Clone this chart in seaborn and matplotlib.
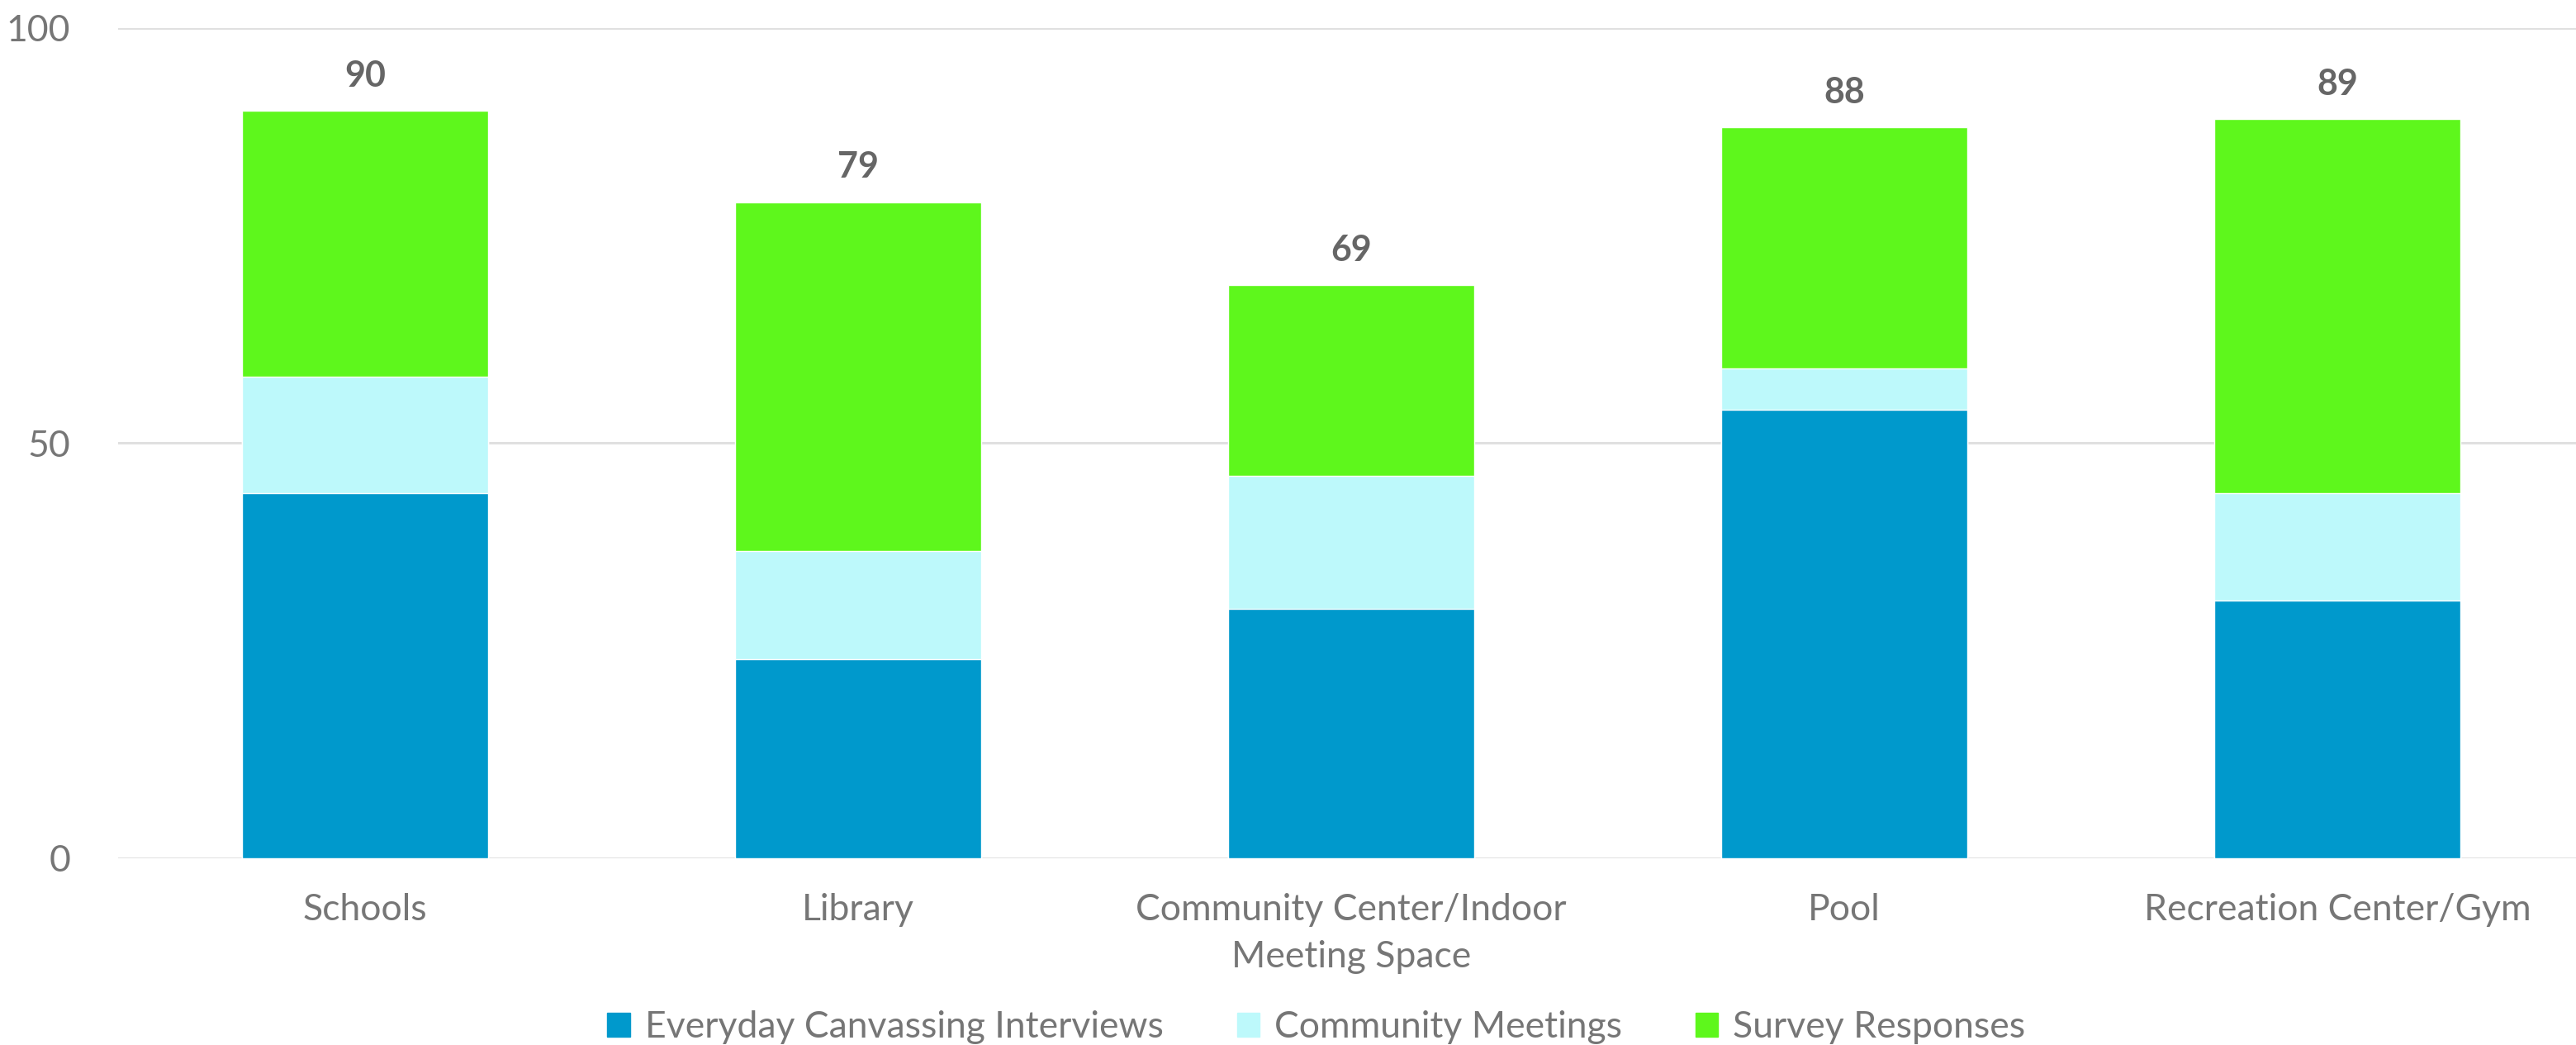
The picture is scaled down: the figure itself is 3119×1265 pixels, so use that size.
import pandas as pd
import numpy as np
import seaborn as sns
import matplotlib.pyplot as plt
from matplotlib.patches import Patch

categories = ["Schools", "Library", "Community Center/Indoor\nMeeting Space", "Pool", "Recreation Center/Gym"]
canvassing = [44, 24, 30, 54, 31]
meetings = [14, 13, 16, 5, 13]
surveys = [32, 42, 23, 29, 45]
series_names = ["Everyday Canvassing Interviews", "Community Meetings", "Survey Responses"]

blue = "#0099CC"
light = "#BDF9FB"
green = "#5EF71C"
grey = "#767676"

df = pd.DataFrame({"cat": categories, "a": canvassing, "b": meetings, "c": surveys})
df["ab"] = df["a"] + df["b"]
df["total"] = df["ab"] + df["c"]

sns.set_style("white")
plt.rcParams["font.family"] = ["Lato", "DejaVu Sans"]

fig = plt.figure(figsize=(31.19, 12.65), dpi=100)
ax = fig.add_axes([0.046, 0.1787, 0.957, 0.7948])

# stacked bars: draw totals first, then cover with lower layers
sns.barplot(data=df, x="cat", y="total", color=green, width=0.5, saturation=1, ax=ax, zorder=2)
sns.barplot(data=df, x="cat", y="ab", color=light, width=0.5, saturation=1, ax=ax, zorder=3)
sns.barplot(data=df, x="cat", y="a", color=blue, width=0.5, saturation=1, ax=ax, zorder=4)

for i, t in enumerate(df["total"]):
    ax.text(i, t + 4.2, str(t), ha="center", va="center", fontsize=31,
            fontweight="bold", color="#666666", zorder=5)

ax.set_ylim(0, 100)
ax.set_xlim(-0.5, 4.5)
ax.set_yticks([0, 50, 100])
ax.yaxis.grid(True, color="#E0E0E0", linewidth=2.2, zorder=0)
ax.set_axisbelow(True)
for s in ax.spines.values():
    s.set_visible(False)
ax.tick_params(axis="both", length=0, labelsize=32, colors=grey)
ax.tick_params(axis="y", pad=42)
ax.tick_params(axis="x", pad=30)
ax.set_xlabel("")
ax.set_ylabel("")
ax.set_xticks(range(len(categories)))
ax.set_xticklabels(categories, linespacing=1.5)

handles = [Patch(color=c) for c in [blue, light, green]]
fig.legend(handles, series_names, loc="center", bbox_to_anchor=(0.511, 0.017), ncol=3,
           frameon=False, fontsize=32, labelcolor=grey, handlelength=0.62, handleheight=0.62,
           handletextpad=0.4, columnspacing=2.0)

plt.savefig("out.png", dpi=100)
